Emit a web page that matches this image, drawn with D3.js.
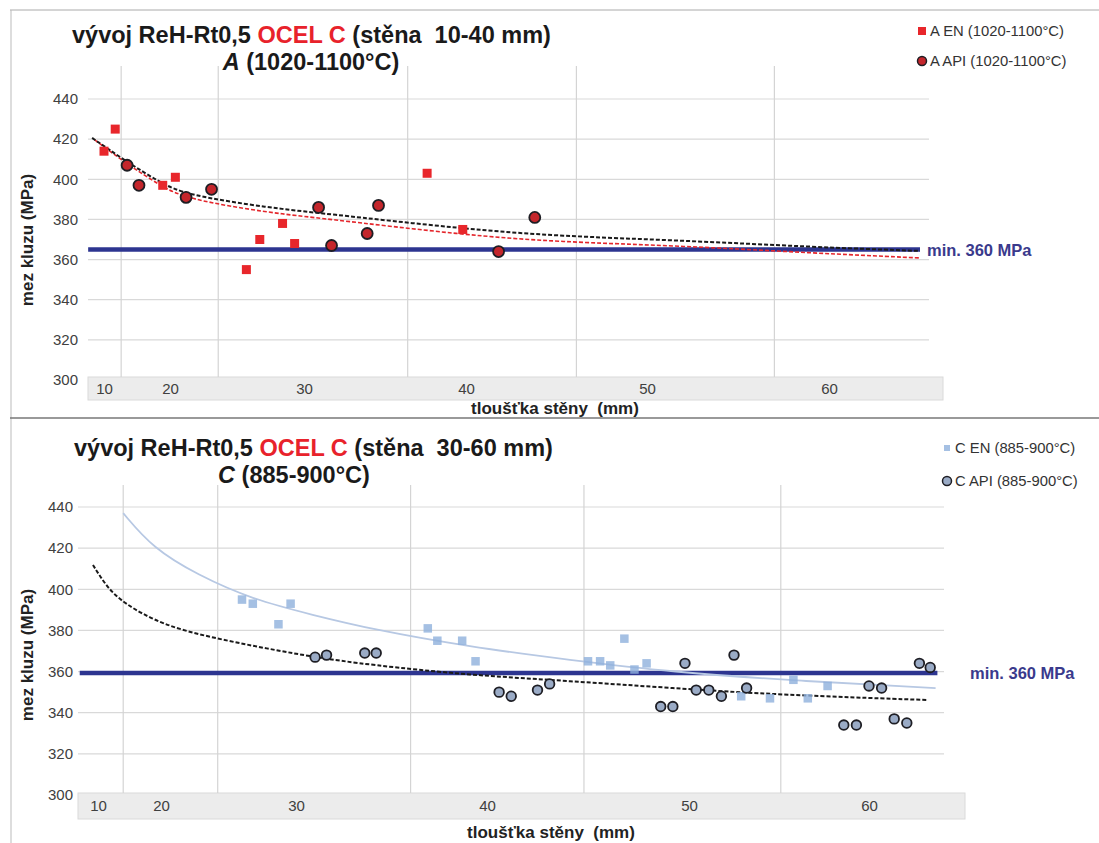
<!DOCTYPE html>
<html>
<head>
<meta charset="utf-8">
<script src="https://cdn.jsdelivr.net/npm/d3@7"></script>
<style>
body { margin: 0; background: #fff; }
svg { font-family: "Liberation Sans", Arial, sans-serif; }
</style>
</head>
<body>
<svg id="chart" width="1099" height="843"></svg>
<script>
// axis ticks (both charts)
var xTicks = [10, 20, 30, 40, 50, 60]
var yTicks = [300, 320, 340, 360, 380, 400, 420, 440]

// chart A: wall 10-40 mm, A (1020-1100°C)
var thickA_EN = [10, 11.7, 18.9, 20.4, 25.7, 26.7, 28.4, 29.3, 37.6, 39.8]
var rehA_EN = [414, 425, 397, 401, 355, 370, 378, 368, 403, 375]
var thickA_API = [13.5, 15.3, 21.2, 23.1, 30.9, 31.7, 33.9, 34.6, 41.8, 43.8]
var rehA_API = [407, 397, 391, 395, 386, 367, 373, 387, 364, 381]
// trend lines
var trendA_API_x = [8.2, 13.5, 18.6, 21.2, 27.5, 31.0, 39.9, 45.1, 52.0, 59.0, 65.0]
var trendA_API_y = [420.6, 408.6, 398.2, 392.2, 385.7, 383.2, 375.2, 371.7, 369.5, 366.3, 364.3]
var trendA_EN_x = [8.6, 13.5, 18.6, 21.2, 27.5, 31.0, 39.9, 45.1, 52.0, 59.0, 65.0]
var trendA_EN_y = [419.6, 407.6, 396.7, 390.2, 383.2, 380.7, 372.2, 368.8, 366.8, 363.3, 360.8]
var minA = 365
var minA_span = [7.6, 65]
var gridA = [12.6, 23.6, 36.4, 46.1, 57.0]

// chart C: wall 30-60 mm, C (885-900°C)
var thickC_EN = [26.0, 26.8, 28.7, 29.6, 36.9, 37.4, 38.7, 39.4, 45.0, 45.6, 46.1, 46.8, 47.3, 47.9, 52.9, 54.5, 55.8, 56.6, 57.7]
var rehC_EN = [395, 393, 383, 393, 381, 375, 375, 365, 365, 365, 363, 376, 361, 364, 348, 347, 356, 347, 353]
var thickC_API = [31.0, 31.6, 33.6, 34.2, 40.6, 41.2, 42.5, 43.1, 48.6, 49.2, 49.8, 50.4, 51.1, 51.8, 52.5, 53.2, 58.6, 59.3, 60.0, 60.7, 61.4, 62.1, 62.8, 63.4]
var rehC_API = [367, 368, 369, 369, 350, 348, 351, 354, 343, 343, 364, 351, 351, 348, 368, 352, 334, 334, 353, 352, 337, 335, 364, 362]
var trendC_EN_x = [14.0, 18.7, 22.7, 26.8, 30.9, 33.9, 39.1, 44.1, 49.1, 56.2, 63.7]
var trendC_EN_y = [437, 420, 407, 395, 387.5, 380.7, 372, 365.6, 359.8, 355.4, 352]
var trendC_API_x = [9.2, 11.4, 14.0, 20.1, 23.9, 27.6, 30.9, 33.9, 39.1, 44.1, 49.1, 55.2, 63.2]
var trendC_API_y = [411.8, 401.1, 393.3, 382.6, 376.3, 371.5, 367.1, 363.2, 358.3, 355.4, 352, 348.6, 346.2]
var minC = 359.3
var minC_span = [7.1, 63.8]
var gridC = [14.0, 24.2, 36.0, 44.8, 55.1]

var svg = d3.select("#chart")

// frame lines of the scanned page
svg.append("line").attr("x1", 10).attr("x2", 1099).attr("y1", 10).attr("y2", 10).attr("stroke", "#aaa")
svg.append("line").attr("x1", 11).attr("x2", 11).attr("y1", 10).attr("y2", 843).attr("stroke", "#bbb")
svg.append("line").attr("x1", 10).attr("x2", 1099).attr("y1", 418).attr("y2", 418).attr("stroke", "#777").attr("stroke-width", 1.5)

function zip(xs, ys) {
    return xs.map(function(d, i) { return [d, ys[i]] })
}

function drawPanel(p) {
    var g = svg.append("g")
    var x = d3.scaleLinear().domain(xTicks).range(p.xRange)
    var y = d3.scaleLinear().domain([300, 440]).range(p.yRange)

    // gray x-label band
    g.append("rect")
        .attr("x", p.band[0]).attr("y", p.band[2])
        .attr("width", p.band[1] - p.band[0]).attr("height", p.band[3] - p.band[2])
        .attr("fill", "#ececec").attr("stroke", "#dadada")

    // gridlines
    g.selectAll(".hg").data(yTicks.slice(1)).join("line")
        .attr("x1", p.plot[0]).attr("x2", p.plot[1])
        .attr("y1", function(d) { return y(d) }).attr("y2", function(d) { return y(d) })
        .attr("stroke", "#d9d9d9").attr("stroke-width", 1.2)
    g.selectAll(".vg").data(p.grid).join("line")
        .attr("x1", function(d) { return x(d) }).attr("x2", function(d) { return x(d) })
        .attr("y1", p.vTop).attr("y2", p.band[2])
        .attr("stroke", "#d4d4d4").attr("stroke-width", 1.2)

    // axes
    var ya = g.append("g").attr("transform", "translate(" + p.yLabelX + ",0)")
        .call(d3.axisLeft(y).tickValues(yTicks).tickSize(0).tickPadding(0))
    var xa = g.append("g").attr("transform", "translate(0," + p.xLabelY + ")")
        .call(d3.axisBottom(x).tickValues(xTicks).tickSize(0).tickPadding(0))
    ya.select(".domain").remove()
    xa.select(".domain").remove()
    g.selectAll(".tick text").attr("font-size", 15).attr("fill", "#404040")
        .attr("font-family", "Liberation Sans, Arial, sans-serif")

    // axis titles
    g.append("text").attr("x", p.xTitle[0]).attr("y", p.xTitle[1])
        .attr("text-anchor", "middle").attr("font-weight", "bold").attr("font-size", 17)
        .attr("fill", "#222").style("white-space", "pre")
        .text("tloušťka stěny  (mm)")
    g.append("text")
        .attr("transform", "translate(" + p.yTitle[0] + "," + p.yTitle[1] + ") rotate(-90)")
        .attr("text-anchor", "middle").attr("font-weight", "bold").attr("font-size", 17)
        .attr("fill", "#222")
        .text("mez kluzu (MPa)")

    // min 360 MPa line
    g.append("line")
        .attr("x1", x(p.minSpan[0])).attr("x2", x(p.minSpan[1]))
        .attr("y1", y(p.min)).attr("y2", y(p.min))
        .attr("stroke", "#2d3590").attr("stroke-width", 4.5)
    g.append("text").attr("x", p.minLabelX).attr("y", y(p.min) + 6)
        .attr("font-weight", "bold").attr("font-size", 16.5).attr("fill", "#3a3a8c")
        .text("min. 360 MPa")

    var line = d3.line()
        .x(function(d) { return x(d[0]) })
        .y(function(d) { return y(d[1]) })
        .curve(d3.curveBasis)

    p.trends.forEach(function(t) {
        g.append("path").datum(t.pts).attr("d", line)
            .attr("fill", "none").attr("stroke", t.color)
            .attr("stroke-width", t.width).attr("stroke-dasharray", t.dash)
    })

    // squares (EN)
    g.selectAll(".sq").data(p.squares).join("rect")
        .attr("x", function(d) { return x(d[0]) - p.sqSize / 2 })
        .attr("y", function(d) { return y(d[1]) - p.sqSize / 2 })
        .attr("width", p.sqSize).attr("height", p.sqSize)
        .attr("fill", p.sqColor).attr("opacity", p.sqOpacity)

    // circles (API)
    g.selectAll(".ci").data(p.circles).join("circle")
        .attr("cx", function(d) { return x(d[0]) })
        .attr("cy", function(d) { return y(d[1]) })
        .attr("r", p.r)
        .attr("fill", p.ciColor).attr("stroke", "#1e1e24").attr("stroke-width", 1.8)

    // title
    var t1 = g.append("text").attr("x", p.titleX).attr("y", p.titleY)
        .attr("font-weight", "bold").attr("font-size", 23.5).attr("fill", "#1a1a1a")
        .style("white-space", "pre")
    t1.append("tspan").text("vývoj ReH-Rt0,5 ")
    t1.append("tspan").attr("fill", "#e8222b").text("OCEL C")
    t1.append("tspan").text(" (stěna  " + p.wall + ")")
    var t2 = g.append("text").attr("x", p.subX).attr("y", p.titleY + 27)
        .attr("text-anchor", "middle").attr("font-weight", "bold").attr("font-size", 23.5)
        .attr("fill", "#1a1a1a")
    t2.append("tspan").attr("font-style", "italic").text(p.letter)
    t2.append("tspan").text(" " + p.temp)

    // legend
    var lg = g.append("g").attr("transform", "translate(" + p.legend[0] + "," + p.legend[1] + ")")
    lg.append("rect").attr("x", -p.lgSq / 2).attr("y", -p.lgSq / 2)
        .attr("width", p.lgSq).attr("height", p.lgSq).attr("fill", p.sqColor).attr("opacity", p.sqOpacity)
    lg.append("text").attr("x", 8).attr("y", 5).attr("font-size", 14.8).attr("fill", "#333")
        .text(p.letter + " EN " + p.temp)
    lg.append("circle").attr("cx", 0).attr("cy", p.legendGap).attr("r", 4.5)
        .attr("fill", p.ciColor).attr("stroke", "#1e1e24").attr("stroke-width", 1.5)
    lg.append("text").attr("x", 8).attr("y", p.legendGap + 5).attr("font-size", 14.8).attr("fill", "#333")
        .text(p.letter + " API " + p.temp)
}

drawPanel({
    wall: "10-40 mm", letter: "A", temp: "(1020-1100°C)",
    xRange: [104, 170, 304, 466, 647, 829], yRange: [380, 99],
    plot: [88, 929], band: [88, 943, 377, 400], vTop: 66, grid: gridA,
    yLabelX: 78, xLabelY: 383, xTitle: [555, 414], yTitle: [33, 240],
    min: minA, minSpan: minA_span, minLabelX: 927,
    trends: [
        { pts: zip(trendA_EN_x, trendA_EN_y), color: "#e4262c", width: 1.6, dash: "4,2" },
        { pts: zip(trendA_API_x, trendA_API_y), color: "#1a1a1a", width: 2, dash: "4,2" }
    ],
    squares: zip(thickA_EN, rehA_EN), sqSize: 9, sqColor: "#e8262b", sqOpacity: 1,
    circles: zip(thickA_API, rehA_API), r: 5.5, ciColor: "#c4262c",
    titleX: 72, titleY: 43, subX: 311,
    legend: [922, 31], legendGap: 30, lgSq: 8
})

drawPanel({
    wall: "30-60 mm", letter: "C", temp: "(885-900°C)",
    xRange: [98, 161, 296, 487, 689, 869], yRange: [795, 507],
    plot: [78, 944], band: [78, 965, 793, 819], vTop: 485, grid: gridC,
    yLabelX: 73, xLabelY: 800, xTitle: [551, 838], yTitle: [33, 655],
    min: minC, minSpan: minC_span, minLabelX: 970,
    trends: [
        { pts: zip(trendC_EN_x, trendC_EN_y), color: "#b7c8e3", width: 1.8, dash: null },
        { pts: zip(trendC_API_x, trendC_API_y), color: "#1a1a1a", width: 2, dash: "4,2" }
    ],
    squares: zip(thickC_EN, rehC_EN), sqSize: 8.5, sqColor: "#8fb0dc", sqOpacity: 0.8,
    circles: zip(thickC_API, rehC_API), r: 4.8, ciColor: "#9aabc6",
    titleX: 74, titleY: 456, subX: 294,
    legend: [947, 448], legendGap: 33, lgSq: 6
})
</script>
</body>
</html>
